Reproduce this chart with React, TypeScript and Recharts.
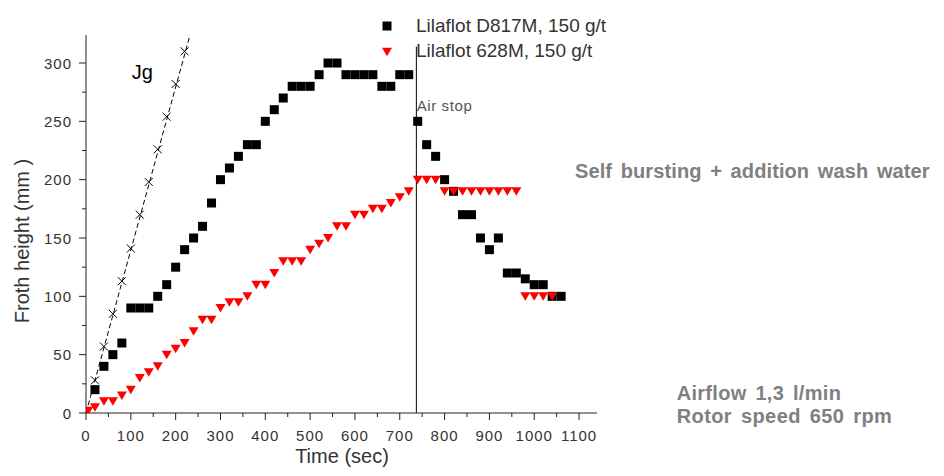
import React from 'react';
import { ComposedChart, Scatter, XAxis, YAxis, ReferenceLine } from 'recharts';

// Lilaflot D817M, 150 g/t (black squares)
const d817Time = [20, 40, 60, 80, 100, 120, 140, 160, 180, 200, 220, 240, 260, 280, 300, 320, 340, 360, 380, 400, 420, 440, 460, 480, 500, 520, 540, 560, 580, 600, 620, 640, 660, 680, 700, 720, 740, 760, 780, 800, 820, 840, 860, 880, 900, 920, 940, 960, 980, 1000, 1020, 1040, 1060];
const d817Height = [20, 40, 50, 60, 90, 90, 90, 100, 110, 125, 140, 150, 160, 180, 200, 210, 220, 230, 230, 250, 260, 270, 280, 280, 280, 290, 300, 300, 290, 290, 290, 290, 280, 280, 290, 290, 250, 230, 220, 200, 190, 170, 170, 150, 140, 150, 120, 120, 115, 110, 110, 100, 100];

// Lilaflot 628M, 150 g/t (red triangles)
const l628Time = [5, 20, 40, 60, 80, 100, 120, 140, 160, 180, 200, 220, 240, 260, 280, 300, 320, 340, 360, 380, 400, 420, 440, 460, 480, 500, 520, 540, 560, 580, 600, 620, 640, 660, 680, 700, 720, 740, 760, 780, 800, 820, 840, 860, 880, 900, 920, 940, 960, 980, 1000, 1020, 1040];
const l628Height = [2, 5, 10, 10, 15, 20, 30, 35, 40, 50, 55, 60, 70, 80, 80, 90, 95, 95, 100, 110, 110, 120, 130, 130, 130, 140, 145, 150, 160, 160, 170, 170, 175, 175, 180, 185, 190, 200, 200, 200, 190, 190, 190, 190, 190, 190, 190, 190, 190, 100, 100, 100, 100];

// Jg (superficial gas velocity) markers and its dashed line
const jgTime = [20, 40, 60, 80, 100, 120, 140, 160, 180, 200, 220];
const jgHeight = [28, 57, 85, 113, 141, 170, 198, 226, 254, 282, 310];
const jgLineTime = [0, 232];
const jgLineHeight = [0, 324];

const xTicks = [0, 50, 100, 150, 200, 250, 300, 350, 400, 450, 500, 550, 600, 650, 700, 750, 800, 850, 900, 950, 1000, 1050, 1100];
const yTicks = [0, 25, 50, 75, 100, 125, 150, 175, 200, 225, 250, 275, 300];

const airStopTime = 737;

const toPoints = (ts: number[], vs: number[]) => ts.map((t, i) => ({ t, v: vs[i] }));

const d817Data = toPoints(d817Time, d817Height);
const l628Data = toPoints(l628Time, l628Height);
const jgData = toPoints(jgTime, jgHeight);
const jgLineData = toPoints(jgLineTime, jgLineHeight);

const FONT = '"Liberation Sans", Arial, sans-serif';

const Square = (props: any) => {
  const { cx, cy } = props;
  return <rect x={cx - 4.5} y={cy - 4.5} width={9} height={9} fill="#000" />;
};

const Triangle = (props: any) => {
  const { cx, cy } = props;
  return <path d={`M${cx - 5},${cy - 4} L${cx + 5},${cy - 4} L${cx},${cy + 4.5} Z`} fill="#ff0000" />;
};

const Cross = (props: any) => {
  const { cx, cy } = props;
  return (
    <path d={`M${cx - 4},${cy - 4} L${cx + 4},${cy + 4} M${cx - 4},${cy + 4} L${cx + 4},${cy - 4}`} stroke="#000" strokeWidth={1} fill="none" />
  );
};

const NoDot = () => <g />;

const XTick = (props: any) => {
  const { x, y, payload } = props;
  const major = payload.value % 100 === 0;
  return (
    <g>
      <line x1={x} y1={y} x2={x} y2={y + (major ? 7 : 4)} stroke="#222" />
      {major && (
        <text x={x} y={y + 28} textAnchor="middle" fontSize={15} letterSpacing={1} fill="#333" fontFamily={FONT}>
          {payload.value}
        </text>
      )}
    </g>
  );
};

const YTick = (props: any) => {
  const { x, y, payload } = props;
  const major = payload.value % 50 === 0;
  return (
    <g>
      <line x1={x - (major ? 7 : 4)} y1={y} x2={x} y2={y} stroke="#222" />
      {major && (
        <text x={x - 14} y={y + 5.5} textAnchor="end" fontSize={15} letterSpacing={1} fill="#333" fontFamily={FONT}>
          {payload.value}
        </text>
      )}
    </g>
  );
};

export default function App() {
  return (
    <div style={{ position: 'relative', width: 928, height: 460, fontFamily: FONT }}>
      <ComposedChart width={928} height={460} margin={{ top: 27, right: 339, bottom: 15, left: 18 }}>
        <XAxis
          type="number"
          dataKey="t"
          domain={[0, 1140]}
          ticks={xTicks}
          interval={0}
          tick={<XTick />}
          tickSize={0}
          tickMargin={0}
          tickLine={false}
          axisLine={{ stroke: '#222' }}
          height={40}
          allowDataOverflow
        />
        <YAxis
          type="number"
          dataKey="v"
          domain={[0, 324]}
          ticks={yTicks}
          interval={0}
          tick={<YTick />}
          tickSize={0}
          tickMargin={0}
          tickLine={false}
          axisLine={{ stroke: '#222' }}
          width={60}
          allowDataOverflow
        />
        <Scatter
          data={jgLineData}
          shape={<NoDot />}
          line={{ stroke: '#000', strokeWidth: 1, strokeDasharray: '5 3' }}
          isAnimationActive={false}
        />
        <Scatter data={jgData} shape={<Cross />} isAnimationActive={false} />
        <ReferenceLine
          segment={[{ x: airStopTime, y: 0 }, { x: airStopTime, y: 314 }]}
          stroke="#000"
          strokeWidth={1}
        />
        <Scatter data={d817Data} shape={<Square />} isAnimationActive={false} />
        <Scatter data={l628Data} shape={<Triangle />} isAnimationActive={false} />
      </ComposedChart>
      <svg
        width={928}
        height={460}
        style={{ position: 'absolute', left: 0, top: 0, pointerEvents: 'none' }}
        fontFamily={FONT}
      >
        <rect x={374.5} y={13.5} width={9} height={9} fill="#000" />
        <text x={408} y={23.7} fontSize={19} fill="#333">Lilaflot D817M, 150 g/t</text>
        <path d="M374,39.7 L384,39.7 L379,48.2 Z" fill="#ff0000" />
        <text x={408} y={48.7} fontSize={19} fill="#333">Lilaflot 628M, 150 g/t</text>

        <text x={123.7} y={71.3} fontSize={20} fill="#000">Jg</text>
        <text x={408.7} y={102.7} fontSize={15} letterSpacing={0.6} fill="#555">Air stop</text>

        <text x={567} y={170.3} fontSize={20} fontWeight="bold" fill="#808080" wordSpacing={3} letterSpacing={0.1}>
          Self bursting + addition wash water
        </text>
        <text x={668.7} y={392} fontSize={20} fontWeight="bold" fill="#808080" wordSpacing={3} letterSpacing={0.3}>
          Airflow 1,3 l/min
        </text>
        <text x={668.7} y={415.3} fontSize={20} fontWeight="bold" fill="#808080" wordSpacing={3} letterSpacing={0.4}>
          Rotor speed 650 rpm
        </text>

        <text x={13.7} y={233} fontSize={20} fill="#333" textAnchor="middle" dy="0.35em" transform="rotate(-90 13.7 233)">
          Froth height (mm )
        </text>
        <text x={334} y={455} fontSize={20} fill="#333" textAnchor="middle">
          Time (sec)
        </text>
      </svg>
    </div>
  );
}
